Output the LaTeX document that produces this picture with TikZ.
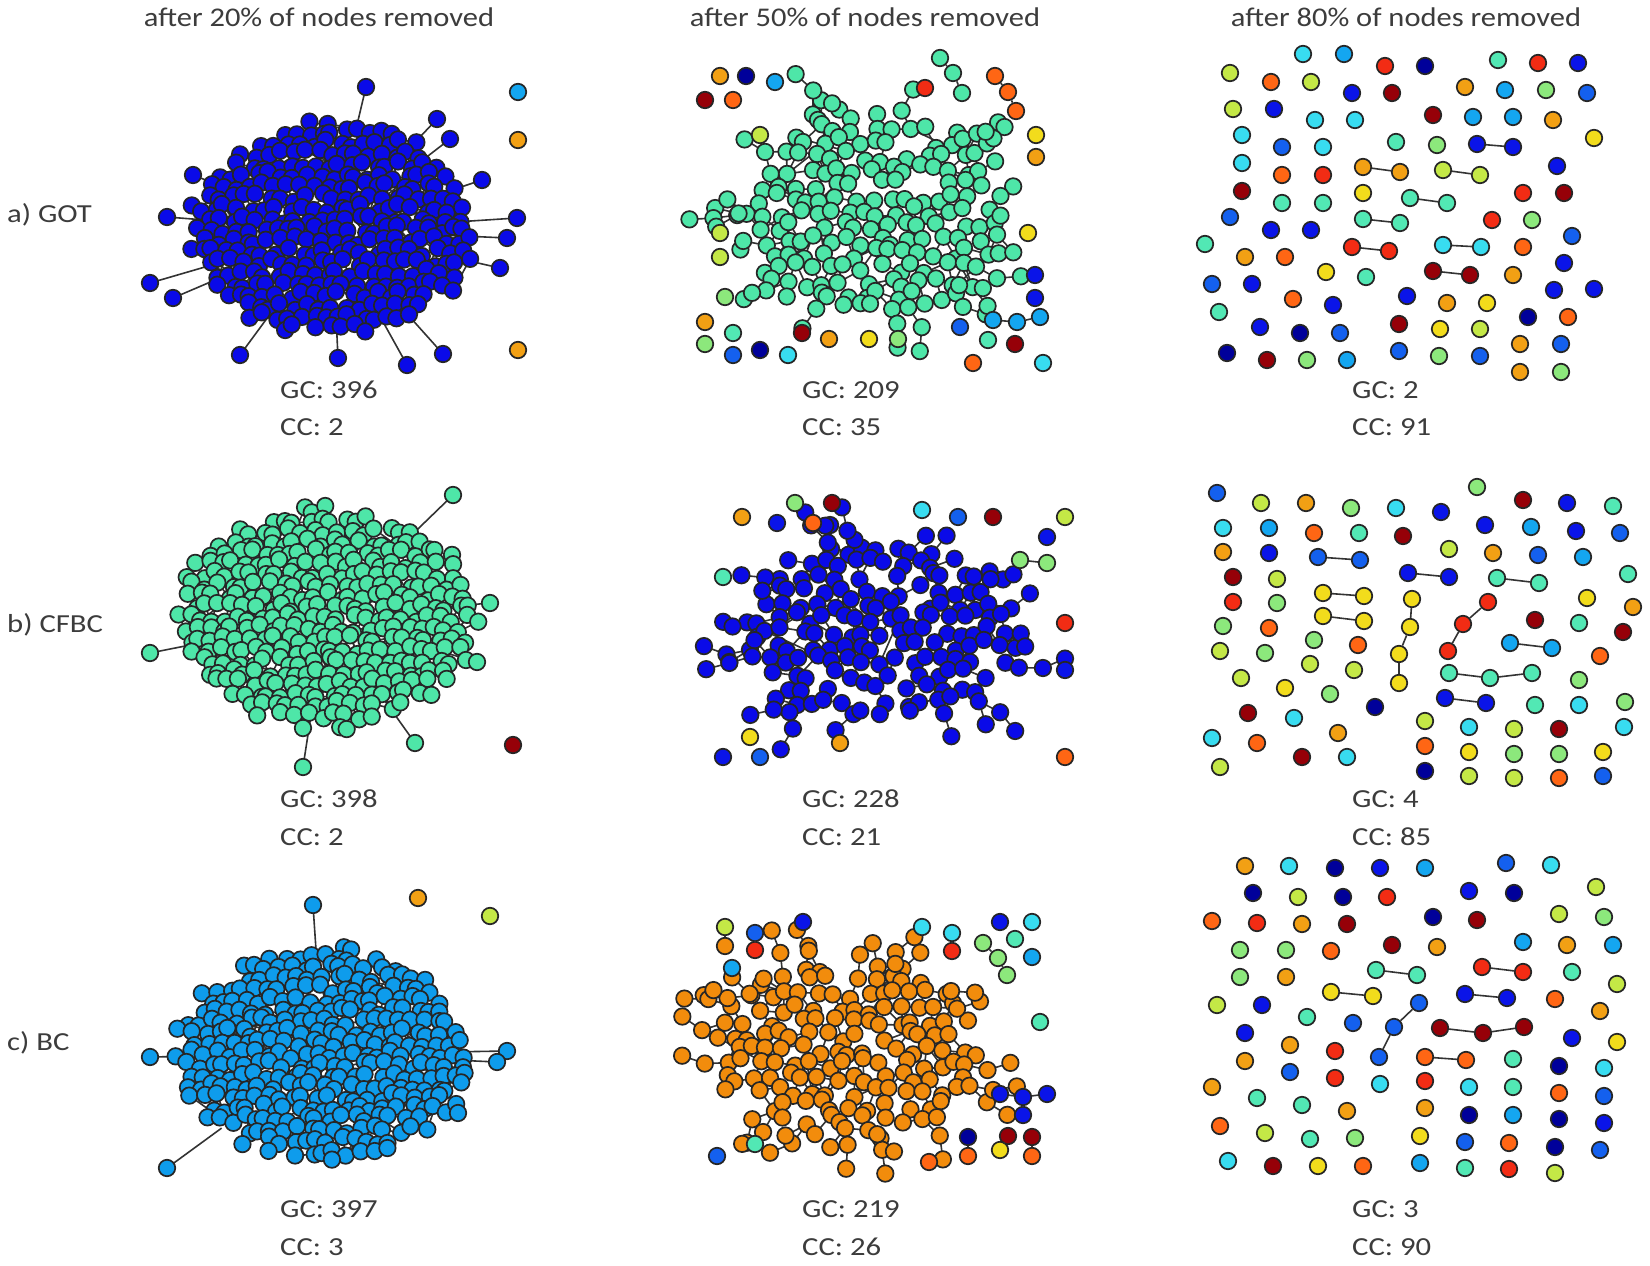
\documentclass[tikz,border=0pt]{standalone}
\usepackage{fontspec}
\usepackage{graphicx}
\setmainfont{Carlito}
\usetikzlibrary{calc}
\definecolor{txt}{HTML}{3C3C3C}
\definecolor{jDB}{HTML}{00009A}
\definecolor{jB}{HTML}{0A14E8}
\definecolor{jMB}{HTML}{1460EE}
\definecolor{jLB}{HTML}{14A6F0}
\definecolor{jCY}{HTML}{38DCF0}
\definecolor{jAQ}{HTML}{52E8B4}
\definecolor{jLG}{HTML}{8CE87C}
\definecolor{jYG}{HTML}{C4E846}
\definecolor{jYE}{HTML}{F2DC1C}
\definecolor{jOR}{HTML}{F2A014}
\definecolor{jDO}{HTML}{FF6614}
\definecolor{jRE}{HTML}{F22C14}
\definecolor{jDR}{HTML}{960008}
\definecolor{cGOT}{HTML}{0A0AE8}
\definecolor{cCF}{HTML}{4EE6A8}
\definecolor{cBC}{HTML}{0E9CEC}
\definecolor{cOR}{HTML}{F28C0C}
\newcommand\wtitle[1]{\scalebox{1.13}[1]{#1}}
\newcommand\wlabel[1]{\scalebox{1.18}[1]{#1}}
\tikzset{
  nd/.style={circle,draw=black!85,line width=1.7pt,minimum size=16.5pt,inner sep=0pt},
  ed/.style={draw=black!80,line width=1.6pt},
  ttl/.style={text=txt,font=\fontsize{27}{32}\selectfont,anchor=base,inner sep=0pt},
  lbl/.style={text=txt,font=\fontsize{26}{30}\selectfont,anchor=base west,inner sep=0pt}
}
\makeatletter
\newcount\clnb
\pgfkeys{/cl/.is family,/cl,
  name/.store in=\cl@name, cx/.store in=\cl@cx, cy/.store in=\cl@cy,
  rx/.store in=\cl@rx, ry/.store in=\cl@ry, s/.store in=\cl@s, j/.store in=\cl@j,
  col/.store in=\cl@col, pe/.store in=\cl@pe, pl/.store in=\cl@pl,
  keep/.store in=\cl@keep, bump/.store in=\cl@bump, seed/.store in=\cl@seed,
  nch/.store in=\cl@nch, maxlen/.store in=\cl@maxlen, len/.store in=\cl@len,
  spread/.store in=\cl@spread}
\newcommand\clok[2]{\csname cl@ok@\cl@name @#1@#2\endcsname}
\newcommand\clchains[1]{%
  \pgfmathsetseed{\cl@seedb}%
  \ifnum\cl@nch>0
  \foreach \kk in {1,...,\cl@nch}{%
    \pgfmathtruncatemacro\cl@idx{random(1,\the\clnb)}%
    \xdef\cl@px{\csname cl@bx@\cl@idx\endcsname}%
    \xdef\cl@py{\csname cl@by@\cl@idx\endcsname}%
    \xdef\cl@prev{\cl@name-\csname cl@b@\cl@idx\endcsname}%
    \pgfmathsetmacro\cl@ang{atan2(\cl@py-\cl@cy,\cl@px-\cl@cx)}%
    \pgfmathtruncatemacro\cl@L{random(1,\cl@maxlen)}%
    \foreach \jj in {1,...,\cl@L}{%
      \pgfmathsetmacro\cl@a{\cl@ang+\cl@spread*rand}%
      \pgfmathsetmacro\cl@nx{\cl@px+\cl@len*cos(\cl@a)}%
      \pgfmathsetmacro\cl@ny{\cl@py+\cl@len*sin(\cl@a)}%
      \ifnum#1=0
        \coordinate (\cl@name-c-\kk-\jj) at (\cl@nx,\cl@ny);
        \draw[ed] (\cl@prev) -- (\cl@name-c-\kk-\jj);
      \else
        \node[nd,fill=\cl@col] at (\cl@nx,\cl@ny) {};
      \fi
      \xdef\cl@px{\cl@nx}\xdef\cl@py{\cl@ny}\xdef\cl@prev{\cl@name-c-\kk-\jj}%
    }%
  }%
  \fi}
\newcommand\makecluster[1]{%
  \pgfkeys{/cl/.cd,pe=0.5,pl=0,keep=1,bump=0.1,nch=0,maxlen=1,len=24,spread=35,j=4,#1}%
  \pgfmathsetseed{\cl@seed}%
  \pgfmathtruncatemacro\cl@seedb{\cl@seed+17}%
  \pgfmathtruncatemacro\cl@R{ceil(\cl@ry/(\cl@s*0.866))+1}%
  \pgfmathtruncatemacro\cl@C{ceil(\cl@rx/\cl@s)+1}%
  \pgfmathtruncatemacro\cl@NR{2*\cl@R}%
  \pgfmathtruncatemacro\cl@NC{2*\cl@C}%
  \pgfmathtruncatemacro\cl@NRm{\cl@NR-1}%
  \pgfmathtruncatemacro\cl@NCm{\cl@NC-1}%
  \global\clnb=0
  \foreach \ri in {0,...,\cl@NR}{%
    \foreach \ci in {0,...,\cl@NC}{%
      \pgfmathsetmacro\cl@dx{(\ci-\cl@C+0.5*mod(\ri,2))*\cl@s+\cl@j*rand}%
      \pgfmathsetmacro\cl@dy{(\ri-\cl@R)*\cl@s*0.866+\cl@j*rand}%
      \pgfmathsetmacro\cl@q{(\cl@dx/\cl@rx)^2+(\cl@dy/\cl@ry)^2}%
      \pgfmathtruncatemacro\cl@ok{((\cl@q<1+\cl@bump*rand)&&(rnd<\cl@keep)&&(\ri>0)&&(\ri<\cl@NR)&&(\ci>0)&&(\ci<\cl@NC))?1:0}%
      \expandafter\xdef\csname cl@ok@\cl@name @\ri @\ci\endcsname{\cl@ok}%
      \pgfmathsetmacro\cl@X{\cl@cx+\cl@dx}%
      \pgfmathsetmacro\cl@Y{\cl@cy+\cl@dy}%
      \coordinate (\cl@name-\ri-\ci) at (\cl@X,\cl@Y);
      \ifnum\cl@ok=1
        \pgfmathtruncatemacro\cl@bd{\cl@q>0.55?1:0}%
        \ifnum\cl@bd=1
          \global\advance\clnb by 1
          \expandafter\xdef\csname cl@b@\the\clnb\endcsname{\ri-\ci}%
          \expandafter\xdef\csname cl@bx@\the\clnb\endcsname{\cl@X}%
          \expandafter\xdef\csname cl@by@\the\clnb\endcsname{\cl@Y}%
        \fi
      \fi
    }%
  }%
  \clchains{0}%
  \foreach \ri in {1,...,\cl@NRm}{%
    \foreach \ci in {1,...,\cl@NCm}{%
      \ifnum\clok{\ri}{\ci}=1
        \pgfmathtruncatemacro\cl@m{mod(\ri,2)}%
        \pgfmathtruncatemacro\cl@cp{\ci+1}%
        \pgfmathtruncatemacro\cl@rp{\ri+1}%
        \pgfmathtruncatemacro\cl@da{\ci-1+\cl@m}%
        \pgfmathtruncatemacro\cl@db{\ci+\cl@m}%
        \pgfmathtruncatemacro\cl@t{rnd<\cl@pe?1:0}%
        \ifnum\cl@t=1 \ifnum\clok{\ri}{\cl@cp}=1
          \draw[ed] (\cl@name-\ri-\ci) -- (\cl@name-\ri-\cl@cp);
        \fi\fi
        \pgfmathtruncatemacro\cl@t{rnd<\cl@pe?1:0}%
        \ifnum\cl@t=1 \ifnum\clok{\cl@rp}{\cl@da}=1
          \draw[ed] (\cl@name-\ri-\ci) -- (\cl@name-\cl@rp-\cl@da);
        \fi\fi
        \pgfmathtruncatemacro\cl@t{rnd<\cl@pe?1:0}%
        \ifnum\cl@t=1 \ifnum\clok{\cl@rp}{\cl@db}=1
          \draw[ed] (\cl@name-\ri-\ci) -- (\cl@name-\cl@rp-\cl@db);
        \fi\fi
        \pgfmathtruncatemacro\cl@t{rnd<\cl@pl?1:0}%
        \ifnum\cl@t=1
          \pgfmathtruncatemacro\cl@lr{min(\ri+random(1,3),\cl@NR)}%
          \pgfmathtruncatemacro\cl@lc{max(0,min(\ci+random(-3,3),\cl@NC))}%
          \ifnum\clok{\cl@lr}{\cl@lc}=1
            \draw[ed] (\cl@name-\ri-\ci) -- (\cl@name-\cl@lr-\cl@lc);
          \fi
        \fi
      \fi
    }%
  }%
  \foreach \ri in {1,...,\cl@NRm}{%
    \foreach \ci in {1,...,\cl@NCm}{%
      \ifnum\clok{\ri}{\ci}=1
        \node[nd,fill=\cl@col] at (\cl@name-\ri-\ci) {};
      \fi
    }%
  }%
  \clchains{1}%
}
\makeatother
\begin{document}
\begin{tikzpicture}[x=1pt,y=-1pt]
\useasboundingbox (0,0) rectangle (1650,1266);
\fill[white] (0,0) rectangle (1650,1266);

% ---------- titles and labels ----------
\node[ttl] (t1) at (319,27) {\wtitle{after 20\% of nodes removed}};
\node[ttl] (t2) at (865,27) {\wtitle{after 50\% of nodes removed}};
\node[ttl] (t3) at (1406,27) {\wtitle{after 80\% of nodes removed}};
\node[lbl] (ra) at (7,222) {\wlabel{a) GOT}};
\node[lbl] (rb) at (7,632) {\wlabel{b) CFBC}};
\node[lbl] (rc) at (7,1050) {\wlabel{c) BC}};
\node[lbl] (g11) at (280,398) {\wlabel{GC: 396}};
\node[lbl] (c11) at (280,435) {\wlabel{CC: 2}};
\node[lbl] (g12) at (802,398) {\wlabel{GC: 209}};
\node[lbl] (c12) at (802,435) {\wlabel{CC: 35}};
\node[lbl] (g13) at (1352,398) {\wlabel{GC: 2}};
\node[lbl] (c13) at (1352,435) {\wlabel{CC: 91}};
\node[lbl] (g21) at (280,807) {\wlabel{GC: 398}};
\node[lbl] (c21) at (280,845) {\wlabel{CC: 2}};
\node[lbl] (g22) at (802,807) {\wlabel{GC: 228}};
\node[lbl] (c22) at (802,845) {\wlabel{CC: 21}};
\node[lbl] (g23) at (1352,807) {\wlabel{GC: 4}};
\node[lbl] (c23) at (1352,845) {\wlabel{CC: 85}};
\node[lbl] (g31) at (280,1217) {\wlabel{GC: 397}};
\node[lbl] (c31) at (280,1255) {\wlabel{CC: 3}};
\node[lbl] (g32) at (802,1217) {\wlabel{GC: 219}};
\node[lbl] (c32) at (802,1255) {\wlabel{CC: 26}};
\node[lbl] (g33) at (1352,1217) {\wlabel{GC: 3}};
\node[lbl] (c33) at (1352,1255) {\wlabel{CC: 90}};

% ---------- panel (1,1) ----------
\coordinate (A11ctr) at (332,230);
\foreach \x/\y [count=\i] in {366/87,437/119,450/139,482/180,517/218,507/238,500/268,193/175,
  167/217,150/283,173/298,240/355,338/358,407/365,443/354}{
  \coordinate (A11p-\i) at (\x,\y); \coordinate (A11a-\i) at ($(A11p-\i)!0.35!(A11ctr)$);
  \draw[ed] (A11a-\i) -- (A11p-\i);}
\makecluster{name=A11,cx=332,cy=230,rx=140,ry=107,s=12.5,j=4.5,col=cGOT,pe=0.5,pl=0.4,keep=1,bump=0.12,seed=14}
\foreach \i in {1,...,15} \node[nd,fill=cGOT] (A11n-\i) at (A11p-\i) {};
\node[nd,fill=jLB] (A11i1) at (518,92) {};
\node[nd,fill=jOR] (A11i2) at (518,140) {};
\node[nd,fill=jOR] (A11i3) at (518,350) {};

% ---------- panel (2,1) ----------
\coordinate (B21ctr) at (326,618);
\foreach \x/\y [count=\i] in {453/495,490/603,477/662,150/653,415/743,303/767}{
  \coordinate (B21p-\i) at (\x,\y); \coordinate (B21a-\i) at ($(B21p-\i)!0.35!(B21ctr)$);
  \draw[ed] (B21a-\i) -- (B21p-\i);}
\makecluster{name=B21,cx=326,cy=618,rx=146,ry=109,s=12.5,j=4.5,col=cCF,pe=0.5,pl=0.4,keep=1,bump=0.12,seed=21}
\foreach \i in {1,...,6} \node[nd,fill=cCF] (B21n-\i) at (B21p-\i) {};
\node[nd,fill=jDR] (B21i1) at (513,745) {};

% ---------- panel (3,1) ----------
\coordinate (C31ctr) at (323,1054);
\foreach \x/\y [count=\i] in {313/905,507/1051,497/1062,458/1113,150/1057,167/1168}{
  \coordinate (C31p-\i) at (\x,\y); \coordinate (C31a-\i) at ($(C31p-\i)!0.35!(C31ctr)$);
  \draw[ed] (C31a-\i) -- (C31p-\i);}
\makecluster{name=C31,cx=323,cy=1054,rx=148,ry=104,s=12.5,j=4.5,col=cBC,pe=0.5,pl=0.4,keep=1,bump=0.12,seed=31}
\foreach \i in {1,...,6} \node[nd,fill=cBC] (C31n-\i) at (C31p-\i) {};
\node[nd,fill=jOR] (C31i1) at (418,898) {};
\node[nd,fill=jYG] (C31i2) at (490,916) {};

% ---------- panel (1,2) ----------
\makecluster{name=A12,cx=872,cy=212,rx=138,ry=102,s=16,j=6,col=cCF,pe=0.45,pl=0.1,keep=0.9,bump=0.15,nch=26,maxlen=2,len=24,spread=40,seed=12}
\foreach \x/\y/\cc [count=\i] in {720/76/jOR,746/76/jDB,775/82/jLB,705/100/jDR,733/100/jDO,
  760/135/jYG,925/88/jRE,940/58/cCF,953/73/cCF,962/93/cCF,995/76/jDO,1008/92/jDO,1016/111/jDO,
  1036/135/jYE,1036/157/jOR,1028/233/jYE,720/233/jYG,720/257/jYG,725/297/jLG,705/322/jOR,
  705/344/jLG,733/333/jAQ,733/355/jMB,760/350/jDB,788/355/jCY,802/333/jDR,829/339/jOR,
  869/339/jYE,898/339/jLG,960/327/jMB,1035/275/jB,1035/298/jB,993/320/jLB,1017/322/jLB,
  1040/317/jLB,988/340/jAQ,1015/344/jDR,973/363/jDO,1043/363/jCY}
  \node[nd,fill=\cc] (M12-\i) at (\x,\y) {};
\draw[ed] (M12-8) -- (M12-9); \draw[ed] (M12-9) -- (M12-10);
\draw[ed] (M12-11) -- (M12-12); \draw[ed] (M12-12) -- (M12-13);
\draw[ed] (M12-33) -- (M12-34); \draw[ed] (M12-34) -- (M12-35);

% ---------- panel (2,2) ----------
\makecluster{name=B22,cx=880,cy=632,rx=142,ry=90,s=16,j=6,col=cGOT,pe=0.45,pl=0.1,keep=0.9,bump=0.15,nch=28,maxlen=2,len=24,spread=40,seed=22}
\foreach \x/\y/\cc [count=\i] in {742/517/jOR,795/503/jLG,832/503/jDR,777/523/jB,813/523/jDO,
  922/510/jCY,958/517/jMB,993/517/jDR,1065/517/jYG,1047/537/jB,1020/560/jLG,1047/563/jLG,
  723/577/jAQ,1065/623/jRE,1065/670/jB,750/737/jYE,840/743/jOR,723/757/jB,760/757/jMB,1065/757/jDO}
  \node[nd,fill=\cc] (M22-\i) at (\x,\y) {};
\draw[ed] (M22-11) -- (M22-12);

% ---------- panel (3,2) ----------
\makecluster{name=C32,cx=850,cy=1050,rx=130,ry=88,s=16,j=6,col=cOR,pe=0.45,pl=0.1,keep=0.9,bump=0.15,nch=30,maxlen=2,len=24,spread=40,seed=32}
\foreach \x/\y/\cc [count=\i] in {725/927/jYG,725/946/cOR,755/933/jMB,755/950/jRE,803/922/jB,
  922/927/jCY,952/933/jCY,952/951/jRE,1000/922/jB,1032/922/jCY,1015/939/jAQ,1032/957/jLB,
  983/943/jLG,998/958/jLG,1007/975/jLG,732/968/jLB,1040/1022/jAQ,1000/1094/jB,1023/1097/jB,
  1047/1094/jB,1023/1115/jB,755/1144/jAQ,717/1156/jMB,968/1137/jDB,968/1156/jDO,1008/1136/jDR,
  1032/1137/jDR,1000/1150/jYE,1032/1156/jDO,929/1162/jDO}
  \node[nd,fill=\cc] (M32-\i) at (\x,\y) {};
\draw[ed] (M32-1) -- (M32-2); \draw[ed] (M32-3) -- (M32-4); \draw[ed] (M32-7) -- (M32-8);
\draw[ed] (M32-13) -- (M32-14); \draw[ed] (M32-14) -- (M32-15);
\draw[ed] (M32-19) -- (M32-18); \draw[ed] (M32-19) -- (M32-20); \draw[ed] (M32-19) -- (M32-21);
\draw[ed] (M32-24) -- (M32-25); \draw[ed] (M32-26) -- (M32-28); \draw[ed] (M32-27) -- (M32-29);

% ---------- panel (1,3) ----------
\foreach \x/\y/\cc [count=\i] in {1303/54/jCY,1344/54/jLB,1385/66/jRE,1425/66/jDB,1498/60/jAQ,
  1538/63/jRE,1578/63/jB,1230/73/jYG,1271/82/jDO,1311/82/jYG,1352/93/jB,1392/93/jDR,1465/87/jOR,
  1505/90/jLB,1546/90/jLG,1587/93/jMB,1233/109/jYG,1274/109/jB,1315/120/jCY,1355/120/jCY,
  1433/115/jDR,1473/117/jLB,1513/117/jLB,1553/120/jOR,1594/138/jYE,1242/135/jCY,1282/147/jMB,
  1323/147/jCY,1396/142/jAQ,1437/145/jLG,1477/144/jB,1513/147/jB,1242/163/jCY,1282/175/jDO,
  1323/175/jRE,1363/167/jOR,1400/172/jOR,1443/170/jYG,1480/175/jYG,1557/166/jB,1242/191/jDR,
  1282/203/jAQ,1323/203/jAQ,1363/193/jYE,1410/198/jAQ,1447/203/jAQ,1523/193/jRE,1564/193/jDR,
  1230/217/jMB,1271/230/jB,1311/230/jB,1363/219/jAQ,1400/223/jAQ,1492/220/jRE,1532/220/jLG,
  1572/236/jMB,1205/244/jAQ,1245/257/jOR,1285/257/jDO,1352/247/jRE,1389/251/jRE,1443/245/jCY,
  1481/247/jCY,1523/247/jDO,1564/263/jB,1212/284/jMB,1252/284/jB,1326/272/jYE,1366/277/jAQ,
  1433/271/jDR,1470/275/jDR,1513/275/jOR,1554/290/jB,1594/289/jB,1219/312/jAQ,1293/299/jDO,
  1333/305/jB,1407/296/jB,1447/303/jOR,1487/303/jYE,1260/327/jB,1300/333/jDB,1340/333/jMB,
  1399/324/jDR,1440/329/jYE,1480/329/jYG,1528/317/jDB,1568/317/jDO,1227/353/jDB,1267/360/jDR,
  1307/360/jLG,1347/360/jLB,1399/351/jMB,1439/356/jLG,1480/356/jMB,1520/344/jOR,1561/344/jMB,
  1520/372/jOR,1561/372/jLG}
  \node[nd,fill=\cc] (T13-\i) at (\x,\y) {};
\foreach \a/\b in {31/32,36/37,38/39,45/46,52/53,60/61,62/63,70/71}
  \draw[ed] (T13-\a) -- (T13-\b);

% ---------- panel (2,3) ----------
\foreach \x/\y/\cc [count=\i] in {1217/493/jMB,1261/503/jYG,1306/503/jOR,1351/508/jLG,1396/508/jCY,
  1441/512/jB,1477/487/jLG,1523/500/jDR,1567/503/jB,1613/506/jAQ,1223/528/jCY,1269/528/jLB,
  1314/533/jDO,1359/533/jAQ,1403/536/jDR,1485/525/jB,1531/527/jLB,1576/531/jB,1620/533/jMB,
  1223/552/jOR,1269/553/jB,1318/557/jMB,1360/560/jMB,1449/549/jYG,1493/553/jOR,1538/555/jMB,
  1583/557/jLB,1233/577/jDR,1277/579/jYG,1408/573/jB,1449/577/jB,1497/578/jAQ,1539/583/jAQ,
  1628/574/jAQ,1233/602/jRE,1277/603/jLG,1323/593/jYE,1364/596/jYE,1412/599/jYE,1488/602/jRE,
  1587/598/jYE,1463/624/jRE,1633/607/jOR,1448/651/jRE,1223/626/jLG,1269/628/jDO,1323/616/jYE,
  1364/621/jYE,1410/627/jYE,1399/654/jYE,1399/683/jYE,1535/620/jDR,1579/623/jAQ,1623/632/jDR,
  1220/651/jYG,1265/653/jLG,1314/640/jLG,1358/645/jDO,1510/643/jLB,1552/648/jLB,1600/656/jDO,
  1241/678/jYG,1310/664/jYG,1354/670/jYG,1449/673/jAQ,1490/678/jAQ,1532/673/jAQ,1579/680/jLG,
  1285/688/jYE,1330/694/jLG,1375/707/jDB,1445/698/jB,1486/703/jB,1535/705/jAQ,1579/705/jCY,
  1625/702/jLG,1248/713/jDR,1294/718/jCY,1425/721/jYG,1469/727/jCY,1514/729/jYG,1559/729/jDR,
  1624/727/jCY,1212/738/jCY,1257/743/jDO,1338/733/jOR,1302/757/jDR,1347/757/jCY,1425/746/jDO,
  1469/752/jYE,1514/754/jLG,1559/754/jLG,1603/752/jYE,1220/767/jYG,1425/771/jDB,1469/776/jYG,
  1514/778/jYG,1559/778/jDO,1603/776/jMB}
  \node[nd,fill=\cc] (T23-\i) at (\x,\y) {};
\foreach \a/\b in {22/23,30/31,32/33,37/38,47/48,39/49,49/50,50/51,40/42,42/44,59/60,65/66,66/67,72/73}
  \draw[ed] (T23-\a) -- (T23-\b);

% ---------- panel (3,3) ----------
\foreach \x/\y/\cc [count=\i] in {1245/866/jOR,1289/866/jCY,1335/868/jDB,1380/868/jB,1425/868/jLB,
  1506/863/jMB,1551/865/jCY,1253/893/jDB,1298/897/jYG,1343/897/jDB,1387/897/jRE,1469/891/jB,
  1514/893/jDB,1596/887/jYG,1212/921/jDO,1257/923/jRE,1302/924/jOR,1347/924/jDR,1433/917/jDB,
  1477/920/jDR,1559/914/jYG,1604/917/jLG,1240/950/jLG,1286/950/jLG,1331/951/jDO,1392/945/jDR,
  1437/947/jOR,1523/942/jLB,1567/945/jOR,1613/945/jLB,1240/977/jLG,1286/977/jOR,1376/970/jAQ,
  1417/975/jAQ,1482/967/jRE,1523/972/jRE,1572/972/jAQ,1617/984/jYG,1217/1005/jYG,1262/1005/jB,
  1331/992/jYE,1373/996/jYE,1419/1003/jMB,1465/994/jB,1507/998/jB,1394/1027/jMB,1555/999/jDO,
  1600/1011/jOR,1379/1057/jMB,1307/1017/jAQ,1353/1023/jMB,1440/1028/jDR,1483/1033/jDR,
  1524/1027/jDR,1245/1033/jB,1290/1045/jOR,1335/1051/jRE,1572/1038/jB,1617/1042/jYE,
  1245/1061/jOR,1290/1072/jMB,1335/1078/jRE,1380/1084/jCY,1425/1057/jDO,1466/1060/jDO,
  1513/1059/jAQ,1559/1066/jDB,1604/1068/jCY,1212/1087/jOR,1425/1081/jRE,1469/1087/jCY,
  1513/1087/jAQ,1559/1093/jDO,1604/1096/jMB,1257/1098/jAQ,1302/1105/jAQ,1347/1111/jOR,
  1425/1108/jOR,1469/1115/jDB,1513/1115/jLB,1559/1119/jDB,1604/1123/jB,1220/1126/jDO,
  1265/1133/jYG,1310/1139/jAQ,1355/1138/jLG,1420/1136/jYE,1465/1142/jMB,1509/1143/jDO,
  1555/1147/jDB,1600/1150/jMB,1228/1161/jCY,1273/1166/jDR,1318/1166/jYE,1363/1166/jDO,
  1420/1163/jLB,1465/1168/jAQ,1509/1169/jRE,1555/1173/jYG}
  \node[nd,fill=\cc] (T33-\i) at (\x,\y) {};
\foreach \a/\b in {33/34,35/36,41/42,43/46,46/49,44/45,52/53,53/54,64/65}
  \draw[ed] (T33-\a) -- (T33-\b);
\end{tikzpicture}
\end{document}
